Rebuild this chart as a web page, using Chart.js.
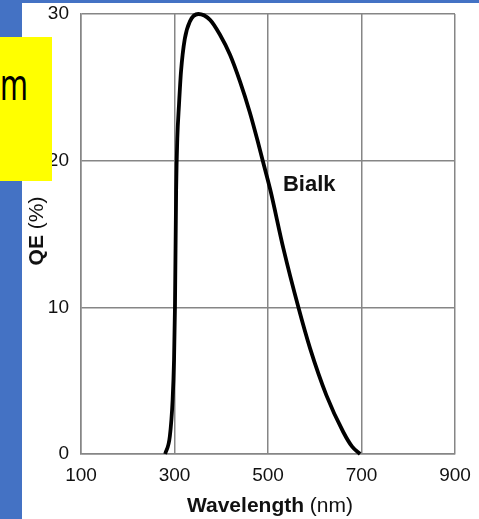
<!DOCTYPE html>
<html>
<head>
<meta charset="utf-8">
<script src="https://cdn.jsdelivr.net/npm/chart.js@4/dist/chart.umd.min.js"></script>
<style>
  html, body { margin: 0; padding: 0; background: #ffffff; width: 479px; height: 519px; overflow: hidden; }
  #blueLeft { position: absolute; left: 0; top: 0; width: 22px; height: 519px; background: #4472c4; }
  #blueTop { position: absolute; left: 0; top: 0; width: 479px; height: 3px; background: #4472c4; }
  #wrap { position: absolute; left: 0; top: 0; width: 479px; height: 519px; }
  #yellow { position: absolute; left: 0; top: 37px; width: 52px; height: 144px; background: #ffff00; overflow: hidden; z-index: 5; }
  #yellow span { position: absolute; left: 0px; top: 16px; font-family: "Noto Sans", "Open Sans", sans-serif; font-size: 44px; line-height: 60px; color: #000; transform: scaleX(0.68); transform-origin: 0 0; }
</style>
</head>
<body>
<div id="blueLeft"></div>
<div id="blueTop"></div>
<div id="wrap"><canvas id="c" width="479" height="519"></canvas></div>
<div id="yellow"><span>m</span></div>
<script>
// ---- data ----
const wavelengths = [280, 290, 296, 299, 301, 303.5, 306, 309.6, 314, 322, 333, 351, 376, 397, 419, 440, 461, 479, 492, 505, 533, 565, 590, 625, 661, 680, 697];
const qeValues    = [0, 1.2, 3.7, 6.4, 10, 18, 21.5, 23.8, 26.1, 28.3, 29.5, 30, 29.6, 28.6, 27.2, 25.4, 23.3, 21.2, 19.6, 18, 14.0, 10.0, 7.2, 4.0, 1.5, 0.5, 0];
const xTickValues = [100, 300, 500, 700, 900];
const yTickValues = [0, 10, 20, 30];
const seriesLabel = "Bialk";
const xTitleBold = "Wavelength";
const xTitleNormal = "(nm)";
const yTitleBold = "QE";
const yTitleNormal = "(%)";
const labelAt = { x: 532, y: 17.9 };

const FONT = '"Liberation Sans", Arial, Helvetica, sans-serif';
const GRID = '#868686';

const points = wavelengths.map((w, i) => ({ x: w, y: qeValues[i] }));

const titlesPlugin = {
  id: 'titles',
  afterDraw(chart) {
    const ctx = chart.ctx;
    const xs = chart.scales.x, ys = chart.scales.y;
    ctx.save();
    ctx.fillStyle = '#111';
    ctx.font = 'bold 22px ' + FONT;
    ctx.textAlign = 'left';
    ctx.textBaseline = 'alphabetic';
    ctx.fillText(seriesLabel, xs.getPixelForValue(labelAt.x), ys.getPixelForValue(labelAt.y));
    const bx = 'bold 21px ' + FONT, nx = '21px ' + FONT;
    ctx.font = bx; const w1 = ctx.measureText(xTitleBold + ' ').width;
    ctx.font = nx; const w2 = ctx.measureText(xTitleNormal).width;
    const cx = (chart.chartArea.left + chart.chartArea.right) / 2 + 2;
    const sx = cx - (w1 + w2) / 2;
    ctx.font = bx; ctx.fillText(xTitleBold + ' ', sx, 512);
    ctx.font = nx; ctx.fillText(xTitleNormal, sx + w1, 512);
    ctx.translate(43, 231);
    ctx.rotate(-Math.PI / 2);
    ctx.font = bx; const v1 = ctx.measureText(yTitleBold + ' ').width;
    ctx.font = nx; const v2 = ctx.measureText(yTitleNormal).width;
    const sy = -(v1 + v2) / 2;
    ctx.font = bx; ctx.fillText(yTitleBold + ' ', sy, 0);
    ctx.font = nx; ctx.fillText(yTitleNormal, sy + v1, 0);
    ctx.restore();
  }
};

new Chart(document.getElementById('c'), {
  type: 'line',
  data: {
    datasets: [{
      label: seriesLabel,
      data: points,
      borderColor: '#000',
      borderWidth: 3.8,
      pointRadius: 0,
      fill: false,
      cubicInterpolationMode: 'monotone',
      clip: 6
    }]
  },
  options: {
    responsive: false,
    animation: false,
    devicePixelRatio: 1,
    layout: { padding: { left: 0, top: 14, right: 24, bottom: 0 } },
    plugins: { legend: { display: false }, tooltip: { enabled: false } },
    scales: {
      x: {
        type: 'linear',
        min: 100, max: 900,
        afterBuildTicks(s) { s.ticks = xTickValues.map(v => ({ value: v })); },
        afterFit(s) { s.height = 65; s.paddingLeft = 0; s.paddingRight = 0; },
        grid: { color: GRID, lineWidth: 1.5, drawTicks: false },
        border: { color: GRID, width: 1.5 },
        ticks: { padding: 10, color: '#111', font: { family: FONT, size: 19 }, maxRotation: 0 }
      },
      y: {
        type: 'linear',
        min: 0, max: 30,
        afterBuildTicks(s) { s.ticks = yTickValues.map(v => ({ value: v })); },
        afterFit(s) { s.width = 81; s.paddingTop = 0; s.paddingBottom = 0; },
        grid: { color: GRID, lineWidth: 1.5, drawTicks: false },
        border: { color: GRID, width: 1.5 },
        ticks: { padding: 12, color: '#111', font: { family: FONT, size: 19 } }
      }
    }
  },
  plugins: [titlesPlugin]
});
</script>
</body>
</html>
